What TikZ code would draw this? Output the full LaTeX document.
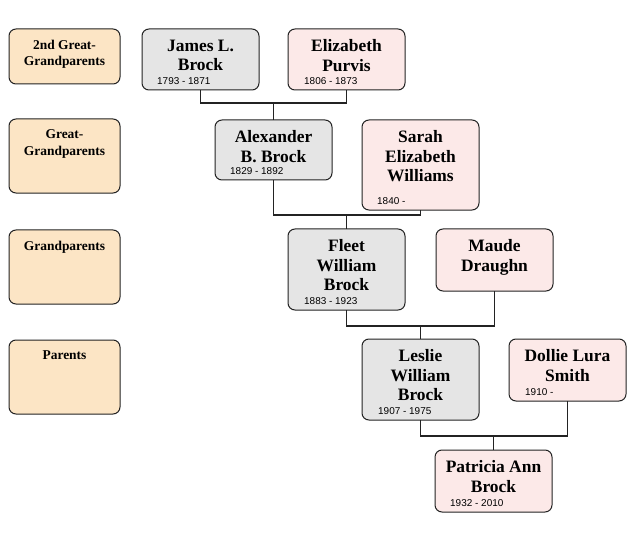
\documentclass[tikz,border=0pt]{standalone}
\usepackage{fontspec}
\setmainfont{Liberation Serif}
\newfontfamily\datefont{Liberation Sans}
\definecolor{labfill}{RGB}{252,229,197}
\definecolor{grayfill}{RGB}{229,229,229}
\definecolor{pinkfill}{RGB}{252,233,232}
\definecolor{edge}{RGB}{35,35,35}
\begin{document}
\begin{tikzpicture}[x=1bp,y=-1bp,
  box/.style={draw=edge, line width=1bp, rounded corners=7bp, anchor=north west, inner sep=0pt, outer sep=0pt},
  lab/.style={box, fill=labfill, minimum width=111bp},
  gbox/.style={box, fill=grayfill, minimum width=117bp},
  pbox/.style={box, fill=pinkfill, minimum width=117bp},
  nm/.style={font=\bfseries\fontsize{17.5}{19.5}\selectfont, align=center, inner sep=0pt, anchor=north},
  lt/.style={font=\bfseries\fontsize{13.5}{17}\selectfont, align=center, inner sep=0pt, anchor=north},
  dt/.style={font=\datefont\fontsize{10}{12}\selectfont, inner sep=0pt, anchor=base west},
  conn/.style={draw=edge, line width=1.3bp}]
\useasboundingbox[fill=white] (0,0) rectangle (640,537);

% generation labels
\node[lab, minimum height=55bp] (l1) at (9,29) {};
\node[lt] (l1t) at ([yshift=-10.5bp]l1.north) {2nd Great-\\Grandparents};
\node[lab, minimum height=74bp] (l2) at (9,119) {};
\node[lt] (l2t) at ([yshift=-10.5bp]l2.north) {Great-\\Grandparents};
\node[lab, minimum height=74bp] (l3) at (9,230) {};
\node[lt] (l3t) at ([yshift=-10.5bp]l3.north) {Grandparents};
\node[lab, minimum height=74bp] (l4) at (9,340) {};
\node[lt] (l4t) at ([yshift=-10.5bp]l4.north) {Parents};

% persons
\node[gbox, minimum height=61bp] (james) at (142,29) {};
\node[nm] (jamesT) at ([yshift=-10.5bp]james.north) {James L.\\Brock};
\node[dt] (jamesD) at ([xshift=15bp,yshift=5.5bp]james.south west) {1793 - 1871};

\node[pbox, minimum height=61bp] (eliz) at (288,29) {};
\node[nm] (elizT) at ([yshift=-10.5bp]eliz.north) {Elizabeth\\Purvis};
\node[dt] (elizD) at ([xshift=16bp,yshift=5.5bp]eliz.south west) {1806 - 1873};

\node[gbox, minimum height=60bp] (alex) at (215,120) {};
\node[nm] (alexT) at ([yshift=-10.5bp]alex.north) {Alexander\\B. Brock};
\node[dt] (alexD) at ([xshift=15bp,yshift=5.5bp]alex.south west) {1829 - 1892};

\node[pbox, minimum height=90bp] (sarah) at (362,120) {};
\node[nm] (sarahT) at ([yshift=-10.5bp]sarah.north) {Sarah\\Elizabeth\\Williams};
\node[dt] (sarahD) at ([xshift=15bp,yshift=5.5bp]sarah.south west) {1840 -};

\node[gbox, minimum height=81bp] (fleet) at (288,229) {};
\node[nm] (fleetT) at ([yshift=-10.5bp]fleet.north) {Fleet\\William\\Brock};
\node[dt] (fleetD) at ([xshift=16bp,yshift=5.5bp]fleet.south west) {1883 - 1923};

\node[pbox, minimum height=62bp] (maude) at (436,229) {};
\node[nm] (maudeT) at ([yshift=-10.5bp]maude.north) {Maude\\Draughn};

\node[gbox, minimum height=81bp] (leslie) at (362,339) {};
\node[nm] (leslieT) at ([yshift=-10.5bp]leslie.north) {Leslie\\William\\Brock};
\node[dt] (leslieD) at ([xshift=16bp,yshift=5.5bp]leslie.south west) {1907 - 1975};

\node[pbox, minimum height=62bp] (dollie) at (509,339) {};
\node[nm] (dollieT) at ([yshift=-10.5bp]dollie.north) {Dollie Lura\\Smith};
\node[dt] (dollieD) at ([xshift=16bp,yshift=5.5bp]dollie.south west) {1910 -};

\node[pbox, minimum height=62bp] (pat) at (435,450) {};
\node[nm] (patT) at ([yshift=-10.5bp]pat.north) {Patricia Ann\\Brock};
\node[dt] (patD) at ([xshift=15bp,yshift=5.5bp]pat.south west) {1932 - 2010};

% connectors
\coordinate (j1) at (alex.north |- 0,103);
\draw[conn] (james.south) |- (j1) -| (eliz.south);
\draw[conn] (j1) -- (alex.north);
\coordinate (j2) at (fleet.north |- 0,215);
\draw[conn] (alex.south) |- (j2) -| (sarah.south);
\draw[conn] (j2) -- (fleet.north);
\coordinate (j3) at (leslie.north |- 0,326);
\draw[conn] (fleet.south) |- (j3) -| (maude.south);
\draw[conn] (j3) -- (leslie.north);
\coordinate (j4) at (pat.north |- 0,436);
\draw[conn] (leslie.south) |- (j4) -| (dollie.south);
\draw[conn] (j4) -- (pat.north);
\end{tikzpicture}
\end{document}
